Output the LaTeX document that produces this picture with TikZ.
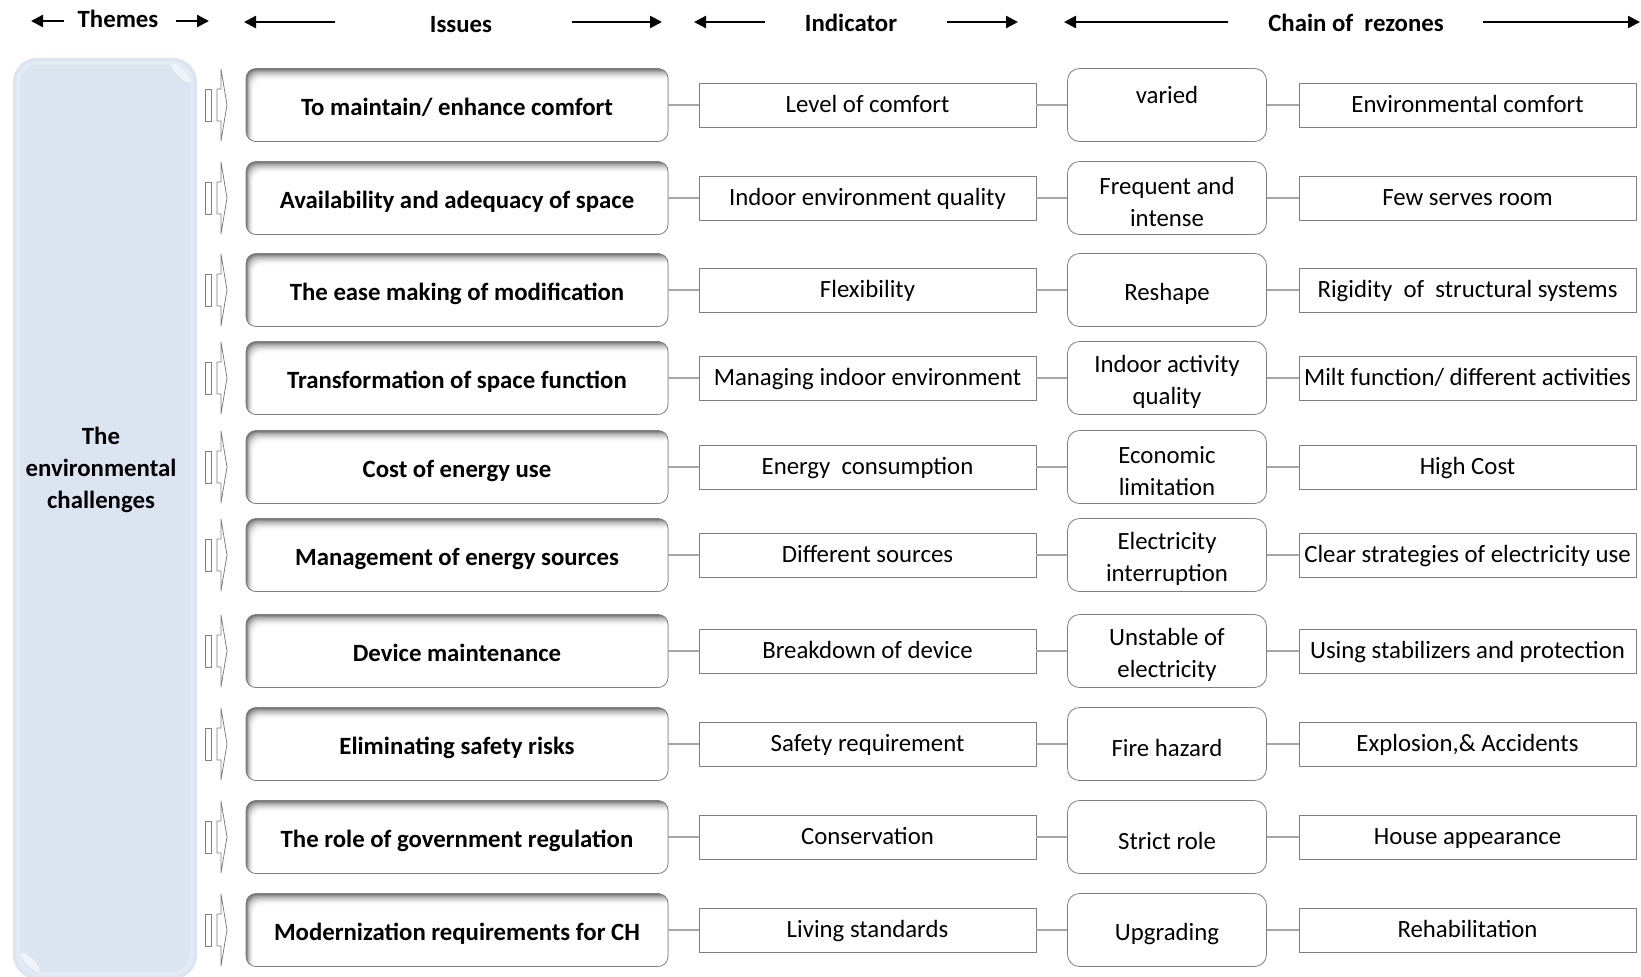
\documentclass[tikz,border=0pt]{standalone}
\usepackage{fontspec}
\setmainfont{Carlito}
\usetikzlibrary{arrows.meta, positioning}
\definecolor{themebg}{RGB}{219,229,241}
\definecolor{boxline}{RGB}{127,127,127}
\definecolor{linkgray}{RGB}{166,166,166}

\begin{document}
\begin{tikzpicture}[
        x=0.5pt, y=-0.5pt,
        every node/.style={font=\fontsize{12.4}{15.7}\selectfont},
        hdr/.style={font=\fontsize{12.4}{15}\selectfont\bfseries},
        hdarrow/.style={line width=1.2pt, -{Triangle[length=6pt, width=6pt]}},
        issue/.style={draw=boxline, rounded corners=5pt, minimum width=211pt, minimum height=36.5pt,
            font=\fontsize{12.4}{15}\selectfont\bfseries, text height=12pt, text depth=2pt,
            path picture={
                \foreach \k [evaluate=\k as \c using {55*(1-\k/10)^2}] in {0,...,10}
                    \fill[black!\c, rounded corners=5pt]
                        ([shift={(\k*0.4pt,-\k*0.6pt)}]path picture bounding box.north west)
                        rectangle ([shift={(8pt,-8pt)}]path picture bounding box.south east);
            }},
        indic/.style={draw=boxline, minimum width=168.5pt, minimum height=22pt, inner sep=1pt,
            text height=10pt, text depth=2.5pt},
        chain/.style={draw=boxline, rounded corners=6pt, minimum width=99.5pt, minimum height=36.5pt},
        chaintext/.style={align=center, inner sep=1pt, yshift=-2pt},
        link/.style={draw=linkgray, line width=0.7pt},
        pointer/.style={draw=boxline, fill=white, line width=0.4pt}
    ]
        \useasboundingbox (0,0) rectangle (1641,976);

        \fill[themebg, rounded corners=12pt] (13,58) rectangle (197,979);
        \draw[white, opacity=0.2, line width=2pt, rounded corners=10pt] (18,63) rectangle (192,974);
        \fill[white, opacity=0.6, rotate around={-45:(181,73)}] (181,73) ellipse (13 and 4);
        \fill[white, opacity=0.6, rotate around={-45:(30,962)}] (30,962) ellipse (13 and 4);
        \node[hdr, align=center, font=\fontsize{12.4}{16}\selectfont\bfseries] (theme) at (101,470)
            {The\\environmental\\challenges};

        \node[hdr] (hThm) at (118,19) {Themes};
        \node[hdr] (hIss) at (461,25) {Issues};
        \node[hdr] (hInd) at (851,23) {Indicator};
        \node[hdr] (hChn) at (1356,23) {Chain of\ \ rezones};
        \foreach \s/\e/\h in {64/31/21, 176/209/21, 335/244/22, 572/662/22,
                765/694/22, 947/1018/22, 1228/1064/22, 1483/1640/22}
            \draw[hdarrow] (\s,\h) -- (\e,\h);

        \foreach \i/\y/\a/\b/\c/\d in {
                1/105/{To maintain/ enhance comfort}/{Level of comfort}/{varied\\[-2pt]\mbox{}}/{Environmental comfort},
                2/198/{Availability and adequacy of space}/{Indoor environment quality}/{Frequent and\\intense}/{Few serves room},
                3/290/{The ease making of modification}/{Flexibility}/{Reshape}/{Rigidity\ \ of\ \ structural systems},
                4/378/{Transformation of space function}/{Managing indoor environment}/{Indoor activity\\quality}/{Milt function/ different activities},
                5/467/{Cost of energy use}/{Energy\ \ consumption}/{Economic\\limitation}/{High Cost},
                6/555/{Management of energy sources}/{Different sources}/{Electricity\\interruption}/{Clear strategies of electricity use},
                7/651/{Device maintenance}/{Breakdown of device}/{Unstable of\\electricity}/{Using stabilizers and protection},
                8/744/{Eliminating safety risks}/{Safety requirement}/{Fire hazard}/{Explosion,\& Accidents},
                9/837/{The role of government regulation}/{Conservation}/{Strict role}/{House appearance},
                10/930/{Modernization requirements for CH}/{Living standards}/{Upgrading}/{Rehabilitation}}{
            \node[issue] (is\i) at (457,\y) {\a};
            \node[indic] (in\i) at (867.5,\y) {\b};
            \node[chain, label={[chaintext]center:\c}] (ch\i) at (1167,\y) {};
            \node[indic] (re\i) at (1467.5,\y) {\d};
            \draw[link] (is\i) -- (in\i);
            \draw[link] (in\i) -- (ch\i);
            \draw[link] (ch\i) -- (re\i);
            \draw[pointer] (205,\y-16) rectangle (211,\y+16);
            \draw[pointer] (217,\y-16) -- (221,\y-16) -- (221,\y-36) -- (227,\y)
                -- (221,\y+36) -- (221,\y+16) -- (217,\y+16) -- cycle;
        }
    \end{tikzpicture}
\end{document}
